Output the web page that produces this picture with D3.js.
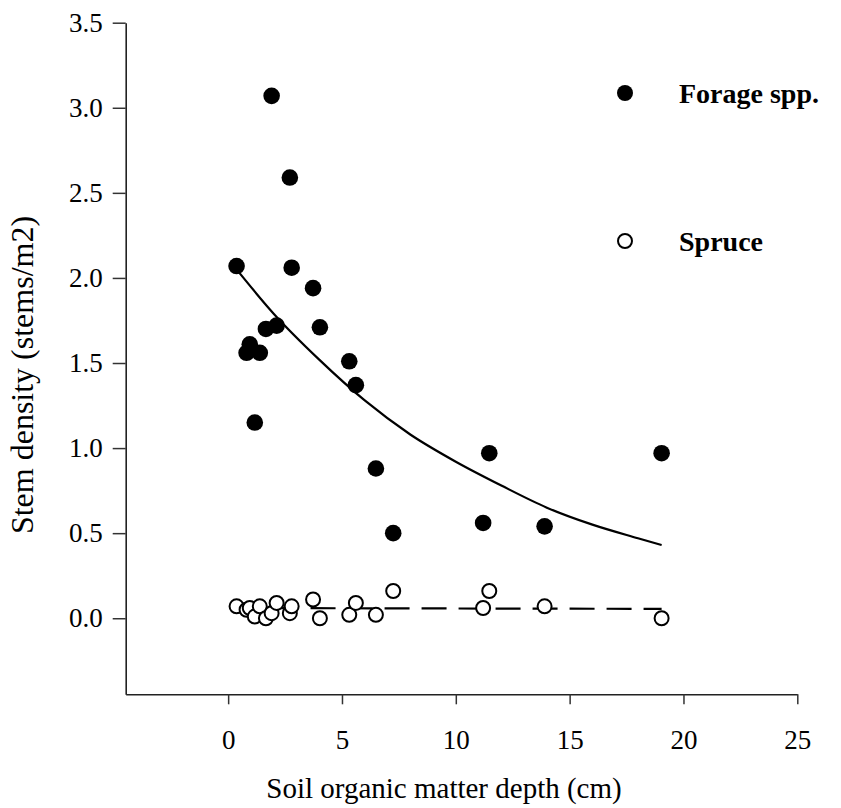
<!DOCTYPE html>
<html><head><meta charset="utf-8">
<script src="https://cdn.jsdelivr.net/npm/d3@7"></script>
<style>
body{margin:0;background:#fff;}
text{font-family:"Liberation Serif","Times New Roman",serif;fill:#000;}
</style></head>
<body><svg id="c" width="841" height="808"></svg>
<script>
// Data
const depth = [0.37,0.81,0.95,1.17,1.39,1.66,1.91,2.13,2.71,2.79,3.73,4.03,5.32,5.61,6.49,7.25,11.20,11.47,13.90,19.04];
const forage = [2.07,1.56,1.61,1.15,1.56,1.70,3.07,1.72,2.59,2.06,1.94,1.71,1.51,1.37,0.88,0.50,0.56,0.97,0.54,0.97];
const spruce = [0.07,0.05,0.06,0.01,0.07,0.00,0.03,0.09,0.03,0.07,0.11,0.00,0.02,0.09,0.02,0.16,0.06,0.16,0.07,0.00];
const forageFitX = [0.37,2,4,6,8,10,12,14,16,18,19.04];
const forageFitY = [2.05,1.79,1.52,1.28,1.08,0.92,0.78,0.65,0.55,0.47,0.43];
const spruceFitX = [0.37,19.04];
const spruceFitY = [0.06,0.055];
const xTicks = [0,5,10,15,20,25];
const yTicks = [0,0.5,1,1.5,2,2.5,3,3.5];
const legendLabels = ["Forage spp.","Spruce"];

const svg = d3.select("#c");
const x = d3.scaleLinear().domain([-4.5,25]).range([125.7,797.3]);
const y = d3.scaleLinear().domain([-0.447,3.5]).range([694.3,22.7]);

const g = svg.append("g");
// axes
const ax = g.append("g").attr("transform",`translate(0,${y(-0.447)})`)
  .call(d3.axisBottom(x).tickValues(xTicks).tickFormat(d3.format("d")).tickSize(10).tickPadding(26).tickSizeOuter(0));
const ay = g.append("g").attr("transform",`translate(${x(-4.5)},0)`)
  .call(d3.axisLeft(y).tickValues(yTicks).tickFormat(d3.format(".1f")).tickSize(13).tickPadding(10).tickSizeOuter(0));
[ax,ay].forEach(a=>{
  a.select(".domain").attr("stroke","#222").attr("stroke-width",1.6);
  a.selectAll(".tick line").attr("stroke","#333").attr("stroke-width",1.5);
  a.selectAll(".tick text").attr("font-family","Liberation Serif, Times New Roman, serif").attr("font-size",27).attr("fill","#111");
});
// fit lines
const line = d3.line().x(d=>x(d[0])).y(d=>y(d[1])).curve(d3.curveMonotoneX);
g.append("path").datum(d3.zip(forageFitX,forageFitY)).attr("d",line)
  .attr("fill","none").attr("stroke","#000").attr("stroke-width",2.2);
g.append("path").datum(d3.zip(spruceFitX,spruceFitY)).attr("d",line)
  .attr("fill","none").attr("stroke","#000").attr("stroke-width",2.2).attr("stroke-dasharray","25,12");
// points
g.append("g").selectAll("circle").data(d3.zip(depth,spruce)).join("circle")
  .attr("cx",d=>x(d[0])).attr("cy",d=>y(d[1])).attr("r",7)
  .attr("fill","#fff").attr("stroke","#000").attr("stroke-width",2);
g.append("g").selectAll("circle").data(d3.zip(depth,forage)).join("circle")
  .attr("cx",d=>x(d[0])).attr("cy",d=>y(d[1])).attr("r",8.3)
  .attr("fill","#000");
// legend
const lg = svg.append("g");
lg.append("circle").attr("cx",625).attr("cy",93).attr("r",8).attr("fill","#000");
lg.append("circle").attr("cx",625).attr("cy",241).attr("r",7).attr("fill","#fff").attr("stroke","#000").attr("stroke-width",2);
lg.selectAll("text.l").data(legendLabels).join("text").attr("class","l")
  .attr("x",679).attr("y",(d,i)=>[103,251][i]).attr("font-weight","bold").attr("font-size",28).text(d=>d);
// titles
svg.append("text").attr("x",444).attr("y",798).attr("text-anchor","middle").attr("font-size",29).text("Soil organic matter depth (cm)");
svg.append("text").attr("transform","translate(33,375) rotate(-90)").attr("text-anchor","middle").attr("font-size",32).text("Stem density (stems/m2)");
</script></body></html>
